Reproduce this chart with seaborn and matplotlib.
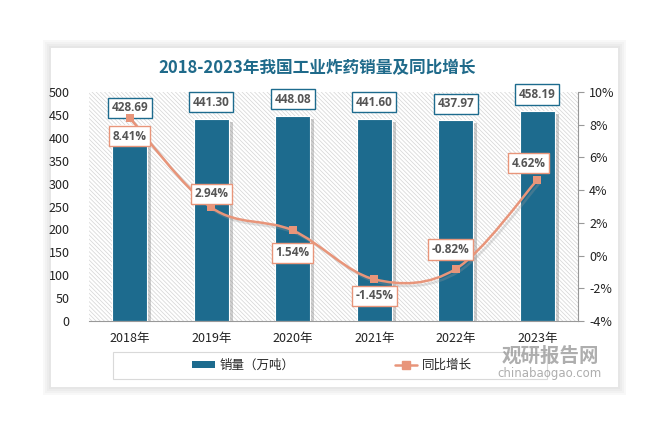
import numpy as np
import matplotlib
matplotlib.use("Agg")
import matplotlib.pyplot as plt
import matplotlib.patheffects as pe
from matplotlib.patches import Rectangle, PathPatch
from matplotlib.path import Path
from matplotlib.lines import Line2D
from matplotlib.patches import Patch
import seaborn as sns

# data
years = ['2018年', '2019年', '2020年', '2021年', '2022年', '2023年']
sales = [428.69, 441.30, 448.08, 441.60, 437.97, 458.19]
growth = [8.41, 2.94, 1.54, -1.45, -0.82, 4.62]
sales_labels = ['428.69', '441.30', '448.08', '441.60', '437.97', '458.19']
growth_labels = ['8.41%', '2.94%', '1.54%', '-1.45%', '-0.82%', '4.62%']
# label offsets (points) for growth labels
g_off = [(0, -13), (0, 10), (0, -16), (0, -12), (-4, 14), (-6, 12)]

sns.set_style('white')
plt.rcParams['font.family'] = ['Noto Sans CJK SC', 'DejaVu Sans']
plt.rcParams['hatch.linewidth'] = 0.5

bar_c = '#1d6b8e'
line_c = '#e8957a'
txt_c = '#555555'

fig = plt.figure(figsize=(6.72, 4.38), dpi=100)
fig.patch.set_facecolor('white')

W, H = 672, 438

# background axes for card + legend frame
bgax = fig.add_axes([0, 0, 1, 1], zorder=-10)
bgax.set_xlim(0, W)
bgax.set_ylim(H, 0)
bgax.axis('off')
# soft shadow around the card
for k, a in enumerate([0.05, 0.05, 0.05, 0.05]):
    d = 2 * (k + 1)
    bgax.add_patch(Rectangle((51 - d, 48 - d), 618 - 51 + 2 * d, 387 - 48 + 2 * d,
                             facecolor='#888888', edgecolor='none', alpha=a))
card = Rectangle((51, 48), 618 - 51, 387 - 48, facecolor='white', edgecolor='none')
bgax.add_patch(card)
bgax.add_patch(Rectangle((113, 352), 547 - 113, 379 - 352, facecolor='white',
                         edgecolor='#d9d9d9', lw=0.8))

ax = fig.add_axes([89 / W, 1 - 321 / H, (578 - 89) / W, (321 - 92) / H])
ax.patch.set_alpha(0)
ax2 = ax.twinx()

# hatched background
bg = Rectangle((0, 0), 1, 1, transform=ax.transAxes, facecolor='white',
               edgecolor='#d4d4d4', hatch='\\' * 8, lw=0, zorder=0)
ax.add_patch(bg)

x = np.arange(len(years))
sns.barplot(x=years, y=sales, color=bar_c, width=0.43, saturation=1, ax=ax, zorder=2)
for p in ax.patches[1:]:
    p.set_edgecolor('white')
    p.set_linewidth(0.8)
    p.set_path_effects([pe.SimplePatchShadow(offset=(3, -2), shadow_rgbFace='#777777', alpha=0.35),
                        pe.Normal()])

ax.set_xlim(-0.5, 5.5)
ax.set_ylim(0, 500)
ax.set_yticks(np.arange(0, 501, 50))
ax2.set_ylim(-4, 10)
ax2.set_yticks(np.arange(-4, 11, 2))
ax2.set_yticklabels([f'{v}%' for v in range(-4, 11, 2)])

for a in (ax, ax2):
    for s in ['top', 'left', 'right']:
        a.spines[s].set_visible(False)
    a.spines['bottom'].set_color('#999999')
ax2.spines['right'].set_visible(True)
ax2.spines['right'].set_color('#999999')
ax2.spines['bottom'].set_visible(False)

ax.tick_params(axis='y', length=0, labelsize=9, labelcolor='#222222', pad=14)
ax.tick_params(axis='x', length=0, labelsize=9, labelcolor='#222222', pad=8)
ax2.tick_params(axis='y', direction='out', length=4, color='#999999',
                labelsize=9, labelcolor='#222222', pad=4)
ax.set_xlabel('')
ax.set_ylabel('')

# sales labels
for xi, v, lab in zip(x, sales, sales_labels):
    ax.annotate(lab, (xi, v), xytext=(0, 12), textcoords='offset points',
                ha='center', va='center', fontsize=8.5, fontweight='bold', color=txt_c,
                family='Open Sans', zorder=6,
                bbox=dict(boxstyle='square,pad=0.3', fc='white', ec=bar_c, lw=1))

# smooth growth curve (Catmull-Rom to Bezier)
pts = np.column_stack([x, growth]).astype(float)
ext = np.vstack([pts[0], pts, pts[-1]])
verts = [tuple(pts[0])]
codes = [Path.MOVETO]
for i in range(1, len(ext) - 2):
    p0, p1, p2, p3 = ext[i - 1], ext[i], ext[i + 1], ext[i + 2]
    c1 = p1 + (p2 - p0) / 6
    c2 = p2 - (p3 - p1) / 6
    verts += [tuple(c1), tuple(c2), tuple(p2)]
    codes += [Path.CURVE4] * 3
curve = PathPatch(Path(verts, codes), fill=False, edgecolor=line_c, lw=1.8, zorder=4,
                  path_effects=[pe.SimpleLineShadow(offset=(2, -2), shadow_color='#999999', alpha=0.3),
                                pe.Normal()])
ax2.add_patch(curve)
sns.scatterplot(x=x, y=growth, marker='s', s=40, color=line_c, edgecolor=line_c,
                linewidth=0, ax=ax2, zorder=5)

for xi, v, lab, off in zip(x, growth, growth_labels, g_off):
    ax2.annotate(lab, (xi, v), xytext=off, textcoords='offset points',
                 ha='center', va='center', fontsize=8.5, fontweight='bold', color=txt_c,
                 family='Open Sans', zorder=7,
                 bbox=dict(boxstyle='square,pad=0.3', fc='white', ec=line_c, lw=1))

# title
fig.text(317 / W, 1 - 68 / H, '2018-2023年我国工业炸药销量及同比增长', ha='center', va='center',
         fontsize=12, fontweight='bold', color='#1f6a8a')

# legend
handles = [Patch(facecolor=bar_c, edgecolor='none'),
           Line2D([0], [0], color=line_c, lw=1.8, marker='s', markersize=6)]
fig.legend(handles, ['销量（万吨）', '同比增长'], loc='center', ncol=2,
           bbox_to_anchor=(332 / W, 1 - 365 / H), frameon=False, fontsize=9,
           handlelength=1.8, handleheight=0.5, columnspacing=8, handletextpad=0.4)

# watermark
fig.text(550 / W, 1 - 356 / H, '观研报告网', ha='center', va='center', fontsize=14,
         fontweight='bold', color='#9a9a9a', alpha=0.8)
fig.text(550 / W, 1 - 374 / H, 'chinabaogao.com', ha='center', va='center', fontsize=8.5,
         color='#9a9a9a', alpha=0.8, family='DejaVu Sans')

fig.savefig('out.png', dpi=100)
